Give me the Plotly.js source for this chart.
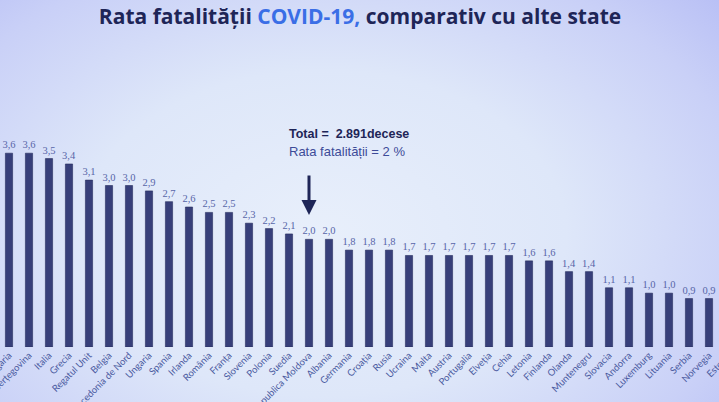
<!DOCTYPE html>
<html>
<head>
<meta charset="utf-8">
<script src="https://cdn.plot.ly/plotly-3.0.1.min.js"></script>
<style>
  html, body { margin: 0; padding: 0; width: 719px; height: 402px; overflow: hidden; }
  body { background: radial-gradient(ellipse 75% 90% at 45% 58%, #e8effb 0%, #dee7f9 45%, #c9d0f7 80%, #b7bef5 100%); }
  #chart { position: absolute; left: -40px; top: 0; width: 800px; height: 402px; }
</style>
</head>
<body>
<div id="chart"></div>
<script>
var countries = ['Bulgaria', 'Bosnia și Herțegovina', 'Italia', 'Grecia', 'Regatul Unit', 'Belgia',
  'Macedonia de Nord', 'Ungaria', 'Spania', 'Irlanda', 'România', 'Franța', 'Slovenia', 'Polonia',
  'Suedia', 'Republica Moldova', 'Albania', 'Germania', 'Croația', 'Rusia', 'Ucraina', 'Malta',
  'Austria', 'Portugalia', 'Elveția', 'Cehia', 'Letonia', 'Finlanda', 'Olanda', 'Muntenegru',
  'Slovacia', 'Andorra', 'Luxemburg', 'Lituania', 'Serbia', 'Norvegia', 'Estonia'];
var rates = [3.6, 3.6, 3.5, 3.4, 3.1, 3.0, 3.0, 2.9, 2.7, 2.6, 2.5, 2.5, 2.3, 2.2,
  2.1, 2.0, 2.0, 1.8, 1.8, 1.8, 1.7, 1.7, 1.7, 1.7, 1.7, 1.7, 1.6, 1.6, 1.4, 1.4,
  1.1, 1.1, 1.0, 1.0, 0.9, 0.9, 0.8];
// Estonia's bar sits past the right edge of the photo, so its value label is left blank
var labels = rates.map(function (v, i) {
  return i === rates.length - 1 ? '' : v.toFixed(1).replace('.', ',');
});

var trace = {
  x: countries,
  y: rates,
  type: 'bar',
  text: labels,
  textposition: 'outside',
  constraintext: 'none',
  cliponaxis: false,
  textfont: { family: 'Liberation Serif', size: 10.5, color: '#5866a8' },
  marker: { color: '#373f7a', line: { color: '#272d5e', width: 0.6 } },
  hoverinfo: 'x+y'
};

var layout = {
  width: 800,
  height: 402,
  margin: { l: 0, r: 0, t: 24, b: 55 },
  paper_bgcolor: 'rgba(0,0,0,0)',
  plot_bgcolor: 'rgba(0,0,0,0)',
  bargap: 0.64,
  showlegend: false,
  title: {
    text: '<b>Rata fatalității <span style="color:#3a6ee6">COVID-19,</span> comparativ cu alte state</b>',
    font: { family: 'Open Sans', size: 21, color: '#1e2557' },
    x: 0.5,
    xanchor: 'center',
    y: 0.958,
    yanchor: 'middle'
  },
  xaxis: {
    type: 'category',
    range: [-2.45, 37.55],
    tickangle: -45,
    tickfont: { family: 'Lato', size: 9.5, color: '#4a5aa0' },
    showline: false,
    showgrid: false,
    ticks: '',
    automargin: false
  },
  yaxis: {
    range: [0, 6],
    visible: false,
    showgrid: false,
    zeroline: false
  },
  annotations: [
    {
      xref: 'x', yref: 'y', x: 'Republica Moldova', y: 2.45,
      ax: 0, ay: -41, text: '', showarrow: true,
      arrowhead: 2, arrowsize: 1, arrowwidth: 3, arrowcolor: '#1e2557'
    },
    {
      xref: 'paper', yref: 'paper', x: 0.409, y: 0.659, xanchor: 'left', yanchor: 'middle',
      text: '<b>Total =  2.891decese</b>', showarrow: false, align: 'left',
      font: { family: 'Liberation Sans', size: 12.5, color: '#1e2557' }
    },
    {
      xref: 'paper', yref: 'paper', x: 0.409, y: 0.604, xanchor: 'left', yanchor: 'middle',
      text: 'Rata fatalității = 2 %', showarrow: false, align: 'left',
      font: { family: 'Liberation Sans', size: 13, color: '#3d4b98' }
    }
  ]
};

var config = { staticPlot: true, responsive: false };

Plotly.newPlot('chart', [trace], layout, config);
</script>
</body>
</html>
